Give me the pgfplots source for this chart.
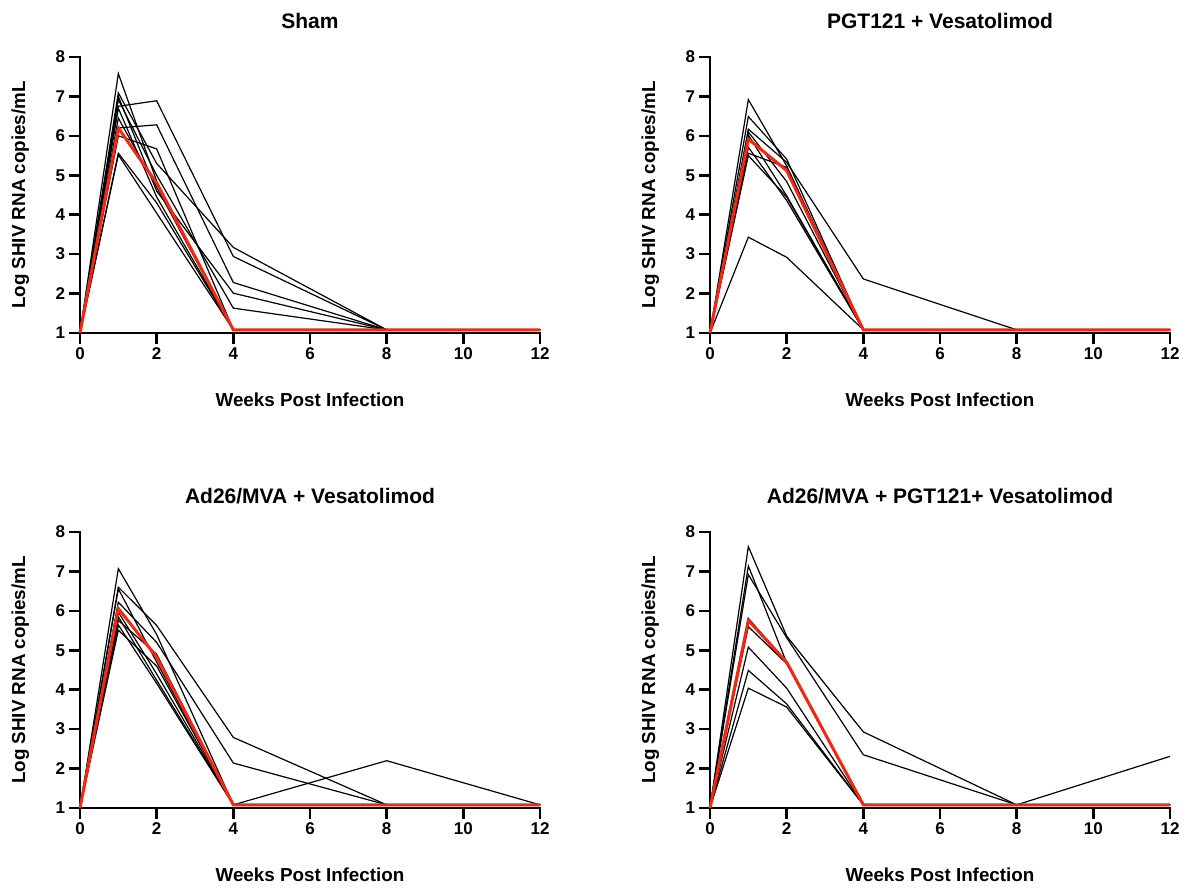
\documentclass[border=0pt]{standalone}
\usepackage{pgfplots}
\pgfplotsset{compat=1.18}
\usepackage{fontspec}
\setmainfont{Liberation Sans}
\definecolor{meanred}{RGB}{240,40,20}
\pgfplotsset{
  panel/.style={
    scale only axis, width=230pt, height=138pt,
    anchor=south west,
    xmin=0, xmax=12, ymin=1, ymax=8,
    xtick={0,2,...,12}, ytick={1,2,...,8},
    axis lines=left,
    axis line style={-, line width=1.25pt, line cap=rect},
    tick align=outside, major tick length=5.5pt,
    tick style={line width=1.25pt, black},
    clip=false,
    /pgf/number format/assume math mode=true,
    tick label style={font=\fontsize{8.5}{9.5}\selectfont\bfseries},
    ticklabel style={inner sep=1.8pt},
    xlabel={Weeks Post Infection},
    ylabel={Log SHIV RNA copies/mL},
    every axis x label/.style={at={(axis description cs:0.5,-0.243)}, anchor=center, font=\fontsize{9.4}{10.5}\selectfont\bfseries},
    every axis y label/.style={at={(axis description cs:-0.13,0.5)}, rotate=90, anchor=center, font=\fontsize{9.4}{10.5}\selectfont\bfseries},
    every axis title/.style={at={(axis description cs:0.5,1.13)}, anchor=center, font=\fontsize{10.5}{12}\selectfont\bfseries},
  },
  ind/.style={black, line width=0.6pt, no markers},
  avg/.style={meanred, line width=1.5pt, no markers},
}
\begin{document}
\begin{tikzpicture}
\useasboundingbox (0,0) rectangle (594pt,444pt);
% ---------------- Sham
\begin{axis}[panel, at={(40pt,277.5pt)}, title={Sham}]
\addplot[ind] coordinates {(0,1) (1,7.58) (2,4.85) (4,1.08) (8,1.08) (12,1.08)};
\addplot[ind] coordinates {(0,1) (1,7.09) (2,5.30) (4,3.17) (8,1.08) (12,1.08)};
\addplot[ind] coordinates {(0,1) (1,7.00) (2,4.60) (4,2.01) (8,1.08) (12,1.08)};
\addplot[ind] coordinates {(0,1) (1,6.92) (2,5.00) (4,1.63) (8,1.08) (12,1.08)};
\addplot[ind] coordinates {(0,1) (1,6.75) (2,6.89) (4,2.94) (8,1.08) (12,1.08)};
\addplot[ind] coordinates {(0,1) (1,6.70) (2,4.45) (4,1.08) (8,1.08) (12,1.08)};
\addplot[ind] coordinates {(0,1) (1,6.45) (2,4.70) (4,1.08) (8,1.08) (12,1.08)};
\addplot[ind] coordinates {(0,1) (1,6.20) (2,6.28) (4,2.28) (8,1.08) (12,1.08)};
\addplot[ind] coordinates {(0,1) (1,6.00) (2,5.67) (4,1.08) (8,1.08) (12,1.08)};
\addplot[ind] coordinates {(0,1) (1,5.56) (2,4.30) (4,1.08) (8,1.08) (12,1.08)};
\addplot[ind] coordinates {(0,1) (1,5.52) (2,4.04) (4,1.08) (8,1.08) (12,1.08)};
\addplot[avg] coordinates {(0,1) (1,6.20) (2,4.80) (4,1.08) (8,1.08) (12,1.08)};
\end{axis}
% ---------------- PGT121 + Vesatolimod
\begin{axis}[panel, at={(355pt,277.5pt)}, title={PGT121 + Vesatolimod}]
\addplot[ind] coordinates {(0,1) (1,6.92) (2,5.24) (4,1.08) (8,1.08) (12,1.08)};
\addplot[ind] coordinates {(0,1) (1,6.49) (2,5.41) (4,1.08) (8,1.08) (12,1.08)};
\addplot[ind] coordinates {(0,1) (1,6.17) (2,5.33) (4,2.37) (8,1.08) (12,1.08)};
\addplot[ind] coordinates {(0,1) (1,6.10) (2,4.84) (4,1.08) (8,1.08) (12,1.08)};
\addplot[ind] coordinates {(0,1) (1,6.02) (2,4.48) (4,1.08) (8,1.08) (12,1.08)};
\addplot[ind] coordinates {(0,1) (1,5.71) (2,4.36) (4,1.08) (8,1.08) (12,1.08)};
\addplot[ind] coordinates {(0,1) (1,5.56) (2,5.20) (4,1.08) (8,1.08) (12,1.08)};
\addplot[ind] coordinates {(0,1) (1,5.50) (2,4.45) (4,1.08) (8,1.08) (12,1.08)};
\addplot[ind] coordinates {(0,1) (1,3.43) (2,2.92) (4,1.08) (8,1.08) (12,1.08)};
\addplot[avg] coordinates {(0,1) (1,5.92) (2,5.12) (4,1.08) (8,1.08) (12,1.08)};
\end{axis}
% ---------------- Ad26/MVA + Vesatolimod
\begin{axis}[panel, at={(40pt,40pt)}, title={Ad26/MVA + Vesatolimod}]
\addplot[ind] coordinates {(0,1) (1,7.07) (2,5.40) (4,1.08) (8,1.08) (12,1.08)};
\addplot[ind] coordinates {(0,1) (1,6.60) (2,5.63) (4,2.79) (8,1.08) (12,1.08)};
\addplot[ind] coordinates {(0,1) (1,6.56) (2,4.70) (4,1.08) (8,1.08) (12,1.08)};
\addplot[ind] coordinates {(0,1) (1,6.22) (2,5.20) (4,2.14) (8,1.08) (12,1.08)};
\addplot[ind] coordinates {(0,1) (1,5.97) (2,4.40) (4,1.08) (8,2.20) (12,1.08)};
\addplot[ind] coordinates {(0,1) (1,5.85) (2,4.24) (4,1.08) (8,1.08) (12,1.08)};
\addplot[ind] coordinates {(0,1) (1,5.76) (2,4.90) (4,1.08) (8,1.08) (12,1.08)};
\addplot[ind] coordinates {(0,1) (1,5.64) (2,4.16) (4,1.08) (8,1.08) (12,1.08)};
\addplot[ind] coordinates {(0,1) (1,5.51) (2,4.60) (4,1.08) (8,1.08) (12,1.08)};
\addplot[avg] coordinates {(0,1) (1,6.06) (2,4.83) (4,1.08) (8,1.08) (12,1.08)};
\end{axis}
% ---------------- Ad26/MVA + PGT121+ Vesatolimod
\begin{axis}[panel, at={(355pt,40pt)}, title={Ad26/MVA + PGT121+ Vesatolimod}]
\addplot[ind] coordinates {(0,1) (1,7.63) (2,5.36) (4,2.93) (8,1.08) (12,1.08)};
\addplot[ind] coordinates {(0,1) (1,7.14) (2,4.68) (4,1.08) (8,1.08) (12,1.08)};
\addplot[ind] coordinates {(0,1) (1,6.92) (2,5.32) (4,2.35) (8,1.08) (12,1.08)};
\addplot[ind] coordinates {(0,1) (1,5.81) (2,4.70) (4,1.08) (8,1.08) (12,2.31)};
\addplot[ind] coordinates {(0,1) (1,5.60) (2,4.66) (4,1.08) (8,1.08) (12,1.08)};
\addplot[ind] coordinates {(0,1) (1,5.08) (2,4.04) (4,1.08) (8,1.08) (12,1.08)};
\addplot[ind] coordinates {(0,1) (1,4.49) (2,3.64) (4,1.08) (8,1.08) (12,1.08)};
\addplot[ind] coordinates {(0,1) (1,4.04) (2,3.56) (4,1.08) (8,1.08) (12,1.08)};
\addplot[avg] coordinates {(0,1) (1,5.76) (2,4.70) (4,1.08) (8,1.08) (12,1.08)};
\end{axis}
\end{tikzpicture}
\end{document}
